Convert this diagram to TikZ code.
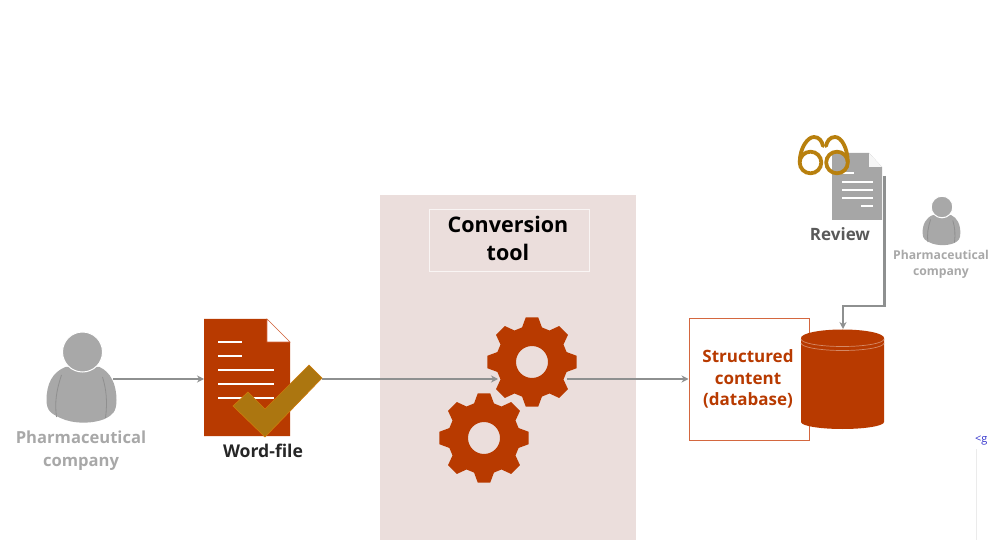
\documentclass[tikz,border=0pt]{standalone}
\usepackage{fontspec}
\setmainfont{Open Sans}[BoldFont={Open Sans Bold}]
\definecolor{rust}{HTML}{B83A00}
\definecolor{rustline}{HTML}{D4673F}
\definecolor{paneltint}{HTML}{EBDEDC}
\definecolor{personfill}{HTML}{A8A8A8}
\definecolor{personline}{HTML}{8F8F8F}
\definecolor{flow}{HTML}{8E9090}
\definecolor{gold}{HTML}{AC7610}
\definecolor{glassgold}{HTML}{B8800E}
\definecolor{docgrey}{HTML}{A6A6A6}
\usetikzlibrary{arrows.meta}
\tikzset{
  flowline/.style={draw=flow,line width=2.2pt,-{Stealth[length=7pt,width=7pt]}},
  lbl/.style={font=\bfseries,align=center,inner sep=0pt},
  ghost/.style={inner sep=0pt,outer sep=0pt,minimum width=#1},
  docline/.style={draw=white,line width=2.6pt},
}
\newcommand{\personshape}[3]{%
  \begin{scope}[shift={(#1,#2)},scale=#3]
    \fill[personfill] (-17,15) .. controls (-30,20) and (-36,32) .. (-36,48)
      .. controls (-36,60) and (-30,62) .. (-22,66)
      .. controls (-10,72) and (10,72) .. (22,67)
      .. controls (30,63) and (34,60) .. (34,48)
      .. controls (34,32) and (28,20) .. (17,15) -- cycle;
    \draw[personline,line width=.8pt] (-21,23) .. controls (-26,38) and (-28,50) .. (-26,65);
    \draw[personline,line width=.8pt] (20,25) .. controls (24,38) and (25,50) .. (23,66);
    \fill[personfill,draw=white,line width=1pt] (0,0) circle (20);
  \end{scope}}
\newcommand{\gearshape}[2]{%
  \fill[rust,even odd rule,shift={(#1,#2)}] (-8:45)
    \foreach \a in {0,45,...,315}{ -- ({\a-8}:45) -- ({\a+8}:45) -- ({\a+16}:36) -- ({\a+29}:36) } -- cycle
    (0,0) circle (16);}
\begin{document}
\begin{tikzpicture}[x=1pt,y=-1pt]
\useasboundingbox (0,0) rectangle (989,540);
\clip (0,0) rectangle (989,540);
% conversion panel
\fill[paneltint] (380,195) rectangle (636,540);
\node[draw=white!70!paneltint,line width=.8pt,minimum width=160pt,minimum height=62pt,inner sep=0pt] (title) at (509,240) {};
\node[lbl,font=\fontsize{21.5}{28}\selectfont\bfseries,text=black] (titletext) at (508,238) {Conversion\\tool};
% anchors for the shapes
\node[ghost=69pt,minimum height=92pt] (person) at (81,378) {};
\node[ghost=86pt,minimum height=117pt] (doc) at (247,377.5) {};
\node[ghost=90pt,minimum height=90pt] (gearone) at (532,362) {};
\node[ghost=90pt,minimum height=90pt] (geartwo) at (484,438) {};
\node[draw=rustline,fill=white,line width=1pt,minimum width=120pt,minimum height=121pt,inner sep=0pt] (box) at (749,379.5) {};
\node[ghost=83pt,minimum height=98pt] (db) at (842.5,379) {};
\node[ghost=52pt,minimum height=67pt] (review) at (858,186.5) {};
\coordinate (checktip) at (322,379);
\coordinate (gearin) at (498,379);
\coordinate (gearout) at (567,379);
\coordinate (personout) at (113,379);
\coordinate (docin) at (204,379);
\coordinate (boxin) at (box.west |- personout);
% connectors
\draw[flowline] (personout) -- (docin);
\draw[flowline] (checktip) -- (gearin);
\draw[flowline] (gearout) -- (boxin);
\draw[flowline] (884.5,176) -- (884.5,306) -- (843,306) -- (843,329);
% left person
\personshape{82.5}{352}{1}
\node[lbl,text=personfill,font=\fontsize{16.6}{23}\selectfont\bfseries] (ptext) at (81,451) {Pharmaceutical\\company};
% word document
\fill[rust] (204,319) -- (267,319) -- (290,342) -- (290,436) -- (204,436) -- cycle;
\fill[white,draw=rustline,line width=.6pt] (267,319) -- (290,342) -- (267,342) -- cycle;
\draw[docline] (218,342) -- (242,342) (218,356) -- (242,356) (218,370) -- (274,370) (218,384) -- (274,384) (218,398) -- (274,398);
\fill[gold,draw=orange!40!gold,line width=.7pt] (233,406) -- (248,392) -- (265,409) -- (309,365) -- (322,378) -- (265,437) -- cycle;
\node[lbl,text=black!85,font=\fontsize{17.6}{20}\selectfont\bfseries] (wtext) at (263,451) {Word-file};
% gears
\gearshape{532}{362}
\gearshape{484}{438}
% box text
\node[lbl,text=rust,font=\fontsize{17}{21.6}\selectfont\bfseries] (boxtext) at (748,379) {Structured\\content\\(database)};
% cylinder
\fill[rust] (801,338) -- (801,422) arc[start angle=180,end angle=0,x radius=41.5,y radius=7] -- (884,338) arc[start angle=0,end angle=-180,x radius=41.5,y radius=8.5] -- cycle;
\draw[white!40!rust,line width=.7pt] (801,339) arc[start angle=180,end angle=0,x radius=41.5,y radius=7.5]
  (801,343) arc[start angle=180,end angle=0,x radius=41.5,y radius=7.5];
% review document
\fill[docgrey] (832,153) -- (869,153) -- (882,167) -- (882,220) -- (832,220) -- cycle;
\fill[white!90!docgrey] (869,153) -- (882,167) -- (869,167) -- cycle;
\draw[white,line width=1.1pt] (842,173) -- (854,173) (842,182) -- (873,182) (842,190) -- (873,190) (842,198) -- (873,198) (861,206) -- (873,206);
% glasses
\begin{scope}[draw=glassgold,line width=3.8pt]
  \draw (810.5,162.5) circle (10.8);
  \draw (837,162.5) circle (10.8);
  \draw[line cap=round] (799.7,162) .. controls (800,147) and (808,137) .. (814,137) .. controls (819,137) and (822,141) .. (823,146);
  \draw[line cap=round] (847.8,162) .. controls (847.5,147) and (841,137) .. (835,137) .. controls (830,137) and (827,141) .. (826,146);
\end{scope}
\node[lbl,text=black!65,font=\fontsize{17}{18}\selectfont\bfseries] (rtext) at (840,234.5) {Review};
% right person
\personshape{942}{207}{0.54}
\node[lbl,text=personfill,font=\fontsize{12.2}{16}\selectfont\bfseries] (ptexttwo) at (941,264) {Pharmaceutical\\company};
% fragment at the edge
\draw[black!8,line width=1pt] (976,449) -- (976,540);
\node[anchor=west,inner sep=0pt,text=blue!60!gray,font=\fontsize{11}{13}\selectfont] (frag) at (975,440) {<g};
\end{tikzpicture}
\end{document}
